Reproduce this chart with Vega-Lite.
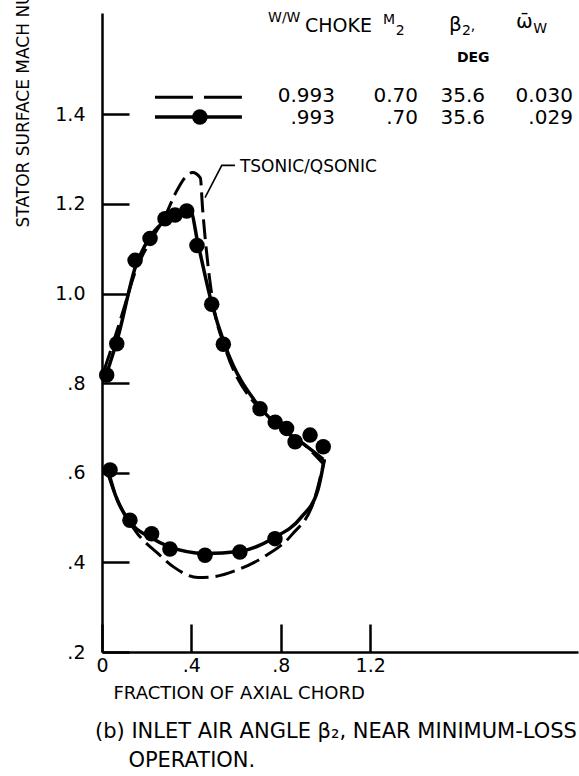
{
  "$schema": "https://vega.github.io/schema/vega-lite/v6.json",
  "width": 476,
  "height": 639,
  "autosize": "none",
  "padding": {"left": 102, "top": 13, "right": 1, "bottom": 124},
  "background": "white",
  "config": {
    "view": {"stroke": null},
    "font": "DejaVu Sans",
    "axis": {
      "grid": false,
      "domainColor": "black",
      "domainWidth": 2.5,
      "tickColor": "black",
      "tickWidth": 2.5,
      "labelColor": "black",
      "titleColor": "black",
      "labelFont": "DejaVu Sans",
      "titleFont": "DejaVu Sans",
      "titleFontWeight": "normal",
      "labelFlush": false,
      "labelOverlap": false,
      "labelBound": false
    }
  },
  "title": {
    "text": ["(b) INLET AIR ANGLE β₂, NEAR MINIMUM-LOSS", "\u200b\u00a0\u00a0\u00a0\u00a0\u00a0OPERATION."],
    "orient": "bottom",
    "anchor": "start",
    "frame": "group",
    "font": "DejaVu Sans",
    "fontSize": 21,
    "fontWeight": "normal",
    "color": "black",
    "lineHeight": 29,
    "offset": 19,
    "dx": -7
  },
  "datasets": {
    "dashed": [
      {"surface": "suction", "x": 0.01, "y": 0.83},
      {"surface": "suction", "x": 0.05, "y": 0.89},
      {"surface": "suction", "x": 0.10, "y": 0.97},
      {"surface": "suction", "x": 0.15, "y": 1.05},
      {"surface": "suction", "x": 0.22, "y": 1.12},
      {"surface": "suction", "x": 0.28, "y": 1.17},
      {"surface": "suction", "x": 0.33, "y": 1.225},
      {"surface": "suction", "x": 0.37, "y": 1.258},
      {"surface": "suction", "x": 0.405, "y": 1.27},
      {"surface": "suction", "x": 0.44, "y": 1.258},
      {"surface": "suction", "x": 0.45, "y": 1.19},
      {"surface": "suction", "x": 0.475, "y": 1.06},
      {"surface": "suction", "x": 0.50, "y": 0.97},
      {"surface": "suction", "x": 0.55, "y": 0.88},
      {"surface": "suction", "x": 0.70, "y": 0.745},
      {"surface": "suction", "x": 0.80, "y": 0.70},
      {"surface": "suction", "x": 0.90, "y": 0.665},
      {"surface": "suction", "x": 0.99, "y": 0.62},
      {"surface": "pressure", "x": 0.025, "y": 0.60},
      {"surface": "pressure", "x": 0.06, "y": 0.55},
      {"surface": "pressure", "x": 0.15, "y": 0.47},
      {"surface": "pressure", "x": 0.25, "y": 0.42},
      {"surface": "pressure", "x": 0.32, "y": 0.39},
      {"surface": "pressure", "x": 0.43, "y": 0.366},
      {"surface": "pressure", "x": 0.50, "y": 0.368},
      {"surface": "pressure", "x": 0.60, "y": 0.382},
      {"surface": "pressure", "x": 0.73, "y": 0.414},
      {"surface": "pressure", "x": 0.85, "y": 0.462},
      {"surface": "pressure", "x": 0.95, "y": 0.54},
      {"surface": "pressure", "x": 0.995, "y": 0.63}
    ],
    "solid": [
      {"surface": "suction", "x": 0.02, "y": 0.82},
      {"surface": "suction", "x": 0.07, "y": 0.90},
      {"surface": "suction", "x": 0.15, "y": 1.06},
      {"surface": "suction", "x": 0.22, "y": 1.13},
      {"surface": "suction", "x": 0.29, "y": 1.165},
      {"surface": "suction", "x": 0.35, "y": 1.18},
      {"surface": "suction", "x": 0.395, "y": 1.185},
      {"surface": "suction", "x": 0.43, "y": 1.11},
      {"surface": "suction", "x": 0.49, "y": 0.98},
      {"surface": "suction", "x": 0.55, "y": 0.885},
      {"surface": "suction", "x": 0.70, "y": 0.75},
      {"surface": "suction", "x": 0.80, "y": 0.70},
      {"surface": "suction", "x": 0.90, "y": 0.665},
      {"surface": "suction", "x": 0.99, "y": 0.63},
      {"surface": "pressure", "x": 0.03, "y": 0.60},
      {"surface": "pressure", "x": 0.06, "y": 0.55},
      {"surface": "pressure", "x": 0.125, "y": 0.49},
      {"surface": "pressure", "x": 0.22, "y": 0.455},
      {"surface": "pressure", "x": 0.30, "y": 0.435},
      {"surface": "pressure", "x": 0.46, "y": 0.42},
      {"surface": "pressure", "x": 0.62, "y": 0.425},
      {"surface": "pressure", "x": 0.77, "y": 0.455},
      {"surface": "pressure", "x": 0.89, "y": 0.50},
      {"surface": "pressure", "x": 0.965, "y": 0.56},
      {"surface": "pressure", "x": 0.995, "y": 0.63}
    ],
    "dots": [
      {"x": 0.021, "y": 0.818}, {"x": 0.066, "y": 0.888}, {"x": 0.148, "y": 1.074},
      {"x": 0.215, "y": 1.123}, {"x": 0.282, "y": 1.167}, {"x": 0.327, "y": 1.175},
      {"x": 0.379, "y": 1.184}, {"x": 0.425, "y": 1.107}, {"x": 0.491, "y": 0.976},
      {"x": 0.543, "y": 0.887}, {"x": 0.707, "y": 0.743}, {"x": 0.775, "y": 0.713},
      {"x": 0.826, "y": 0.699}, {"x": 0.864, "y": 0.669}, {"x": 0.931, "y": 0.684},
      {"x": 0.990, "y": 0.658}, {"x": 0.036, "y": 0.606}, {"x": 0.125, "y": 0.494},
      {"x": 0.222, "y": 0.464}, {"x": 0.304, "y": 0.430}, {"x": 0.461, "y": 0.416},
      {"x": 0.617, "y": 0.423}, {"x": 0.774, "y": 0.453},
      {"x": 0.438, "y": 1.394}
    ],
    "legend": [
      {"series": "TSONIC/QSONIC", "x": 0.237, "y": 1.438},
      {"series": "TSONIC/QSONIC", "x": 0.626, "y": 1.438},
      {"series": "data", "x": 0.237, "y": 1.394},
      {"series": "data", "x": 0.626, "y": 1.394}
    ],
    "leader": [
      {"x": 0.595, "y": 1.286},
      {"x": 0.536, "y": 1.286},
      {"x": 0.461, "y": 1.214}
    ],
    "texts": [
      {"role": "small", "t": "W/W", "x": 0.743, "y": 1.606},
      {"role": "hdr", "t": "CHOKE", "x": 0.908, "y": 1.583},
      {"role": "small", "t": "M", "x": 1.257, "y": 1.601},
      {"role": "small", "t": "2", "x": 1.315, "y": 1.578},
      {"role": "greek", "t": "β", "x": 1.553, "y": 1.586},
      {"role": "small", "t": "2", "x": 1.611, "y": 1.576},
      {"role": "small", "t": ",", "x": 1.65, "y": 1.587},
      {"role": "greek", "t": "ω̄", "x": 1.853, "y": 1.592},
      {"role": "small", "t": "W", "x": 1.93, "y": 1.581},
      {"role": "deg", "t": "DEG", "x": 1.588, "y": 1.516},
      {"role": "note", "t": "TSONIC/QSONIC", "x": 0.617, "y": 1.282}
    ],
    "values": [
      {"t": "0.993", "x": 1.0425, "y": 1.440},
      {"t": "0.70", "x": 1.414, "y": 1.440},
      {"t": "35.6", "x": 1.714, "y": 1.440},
      {"t": "0.030", "x": 2.107, "y": 1.440},
      {"t": ".993", "x": 1.0425, "y": 1.392},
      {"t": ".70", "x": 1.414, "y": 1.392},
      {"t": "35.6", "x": 1.714, "y": 1.392},
      {"t": ".029", "x": 2.107, "y": 1.392}
    ]
  },
  "encoding": {
    "x": {
      "field": "x",
      "type": "quantitative",
      "scale": {"domain": [0, 2.13], "nice": false, "zero": false},
      "axis": {
        "values": [0, 0.4, 0.8, 1.2],
        "labelExpr": "datum.value == 0 ? '0' : (datum.value < 1 ? '.' + format(round(datum.value * 10), 'd') : format(datum.value, '.1f'))",
        "tickSize": -28,
        "labelPadding": 32,
        "labelFontSize": 19,
        "title": "FRACTION OF AXIAL CHORD",
        "titleFontSize": 18,
        "titleAlign": "left",
        "titleBaseline": "alphabetic",
        "titleX": 11,
        "titleY": 46
      }
    },
    "y": {
      "field": "y",
      "type": "quantitative",
      "scale": {"domain": [0.2, 1.626], "nice": false, "zero": false},
      "axis": {
        "values": [0.2, 0.4, 0.6, 0.8, 1.0, 1.2, 1.4],
        "labelExpr": "datum.value < 1 ? '.' + format(round(datum.value * 10), 'd') : format(datum.value, '.1f')",
        "tickSize": -27,
        "labelPadding": 44,
        "labelFontSize": 19,
        "title": "STATOR SURFACE MACH NUMBER",
        "titleFontSize": 17,
        "titleAngle": 270,
        "titleAlign": "center",
        "titleBaseline": "alphabetic",
        "titleX": -74,
        "titleY": 72
      }
    }
  },
  "layer": [
    {
      "data": {"name": "dashed"},
      "mark": {"type": "line", "color": "black", "strokeWidth": 3, "strokeDash": [20, 7], "interpolate": "monotone"},
      "encoding": {"detail": {"field": "surface"}}
    },
    {
      "data": {"name": "solid"},
      "mark": {"type": "line", "color": "black", "strokeWidth": 3.5, "interpolate": "monotone"},
      "encoding": {"detail": {"field": "surface"}}
    },
    {
      "data": {"name": "dots"},
      "mark": {"type": "circle", "color": "black", "opacity": 1, "size": 240}
    },
    {
      "data": {"name": "legend"},
      "transform": [{"filter": "datum.series == 'TSONIC/QSONIC'"}],
      "mark": {"type": "line", "color": "black", "strokeWidth": 3, "strokeDash": [38, 11]}
    },
    {
      "data": {"name": "legend"},
      "transform": [{"filter": "datum.series == 'data'"}],
      "mark": {"type": "line", "color": "black", "strokeWidth": 3.5}
    },
    {
      "data": {"name": "leader"},
      "mark": {"type": "line", "color": "black", "strokeWidth": 1.6}
    },
    {
      "data": {"name": "texts"},
      "transform": [{"filter": "datum.role == 'small'"}],
      "mark": {"type": "text", "align": "left", "baseline": "alphabetic", "fontSize": 14, "color": "black"},
      "encoding": {"text": {"field": "t"}}
    },
    {
      "data": {"name": "texts"},
      "transform": [{"filter": "datum.role == 'hdr'"}],
      "mark": {"type": "text", "align": "left", "baseline": "alphabetic", "fontSize": 19, "color": "black"},
      "encoding": {"text": {"field": "t"}}
    },
    {
      "data": {"name": "texts"},
      "transform": [{"filter": "datum.role == 'greek'"}],
      "mark": {"type": "text", "align": "left", "baseline": "alphabetic", "fontSize": 20, "color": "black"},
      "encoding": {"text": {"field": "t"}}
    },
    {
      "data": {"name": "texts"},
      "transform": [{"filter": "datum.role == 'deg'"}],
      "mark": {"type": "text", "align": "left", "baseline": "alphabetic", "fontSize": 14, "fontWeight": "bold", "color": "black"},
      "encoding": {"text": {"field": "t"}}
    },
    {
      "data": {"name": "texts"},
      "transform": [{"filter": "datum.role == 'note'"}],
      "mark": {"type": "text", "align": "left", "baseline": "middle", "fontSize": 17, "color": "black"},
      "encoding": {"text": {"field": "t"}}
    },
    {
      "data": {"name": "values"},
      "mark": {"type": "text", "align": "right", "baseline": "middle", "fontSize": 20, "color": "black"},
      "encoding": {"text": {"field": "t"}}
    }
  ]
}
